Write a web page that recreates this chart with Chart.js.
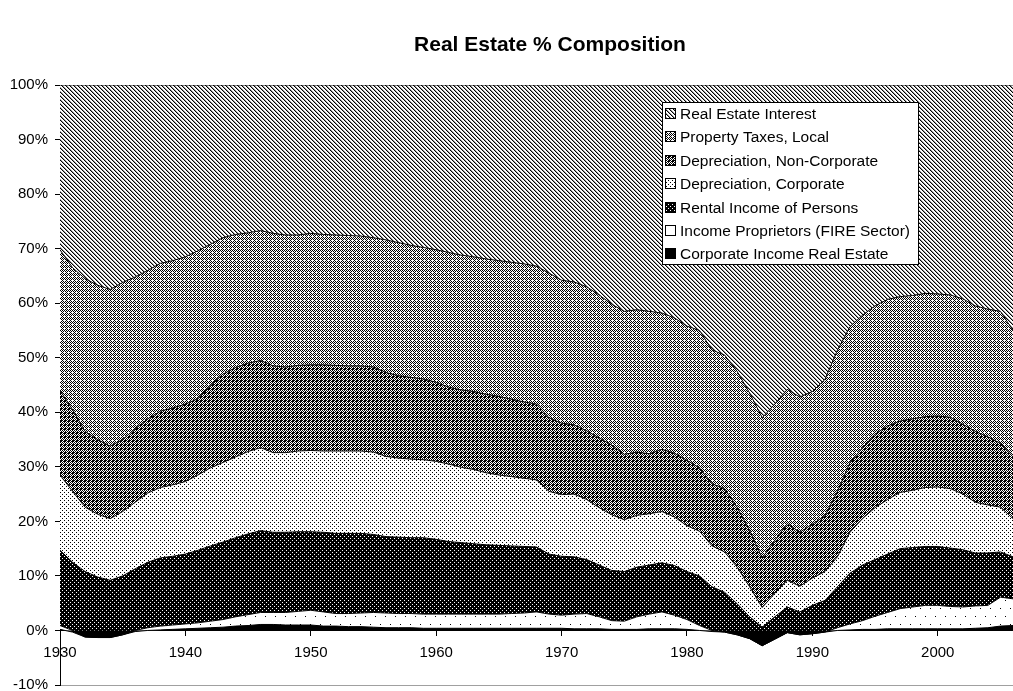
<!DOCTYPE html>
<html><head><meta charset="utf-8">
<script src="https://cdn.jsdelivr.net/npm/chart.js@4.4.1/dist/chart.umd.min.js"></script>
<style>html,body{margin:0;padding:0;background:#fff;}#wrap{width:1013px;height:691px;}</style>
</head><body>
<div id="wrap"><canvas id="c" width="1013" height="691"></canvas></div>
<script>
const years = [1930,1931,1932,1933,1934,1935,1936,1937,1938,1939,
1940,1941,1942,1943,1944,1945,1946,1947,1948,1949,
1950,1951,1952,1953,1954,1955,1956,1957,1958,1959,
1960,1961,1962,1963,1964,1965,1966,1967,1968,1969,
1970,1971,1972,1973,1974,1975,1976,1977,1978,1979,
1980,1981,1982,1983,1984,1985,1986,1987,1988,1989,
1990,1991,1992,1993,1994,1995,1996,1997,1998,1999,
2000,2001,2002,2003,2004,2005,2006];

const corporateIncome = [0.2,-0.3,-1.2,-1.3,-1.3,-0.8,-0.2,0.0,0.1,0.2,
0.3,0.4,0.5,0.6,0.8,0.9,1.1,1.1,1.0,1.0,
1.0,0.8,0.8,0.7,0.7,0.6,0.5,0.5,0.5,0.4,
0.4,0.4,0.4,0.4,0.4,0.4,0.4,0.4,0.4,0.4,
0.4,0.3,0.3,0.3,0.2,0.2,0.2,0.3,0.3,0.3,
0.2,0.0,-0.2,-0.3,-0.8,-1.5,-2.8,-1.6,-0.4,-0.8,
-0.6,-0.3,0.0,0.1,0.2,0.2,0.3,0.3,0.3,0.3,
0.3,0.3,0.3,0.4,0.5,0.8,0.9];

const incomeProprietors = [0.7,0.3,0,0,0,0,0.2,0.5,0.7,0.8,
0.9,1.0,1.2,1.4,1.7,2.0,2.2,2.2,2.3,2.5,
2.7,2.6,2.3,2.4,2.5,2.7,2.7,2.6,2.6,2.6,
2.6,2.6,2.6,2.6,2.6,2.6,2.7,2.8,3.0,2.6,
2.4,2.7,2.8,2.2,1.6,1.5,2.3,2.7,3.1,2.5,
1.8,0.9,0.2,0,0,0,0,0,0,0,
0,0,0.5,1.1,1.6,2.4,3.0,3.7,4.0,4.3,
4.3,4.1,4.0,4.1,4.1,5.3,4.9];

const rentalIncome = [13.8,12.5,12.0,11.1,10.5,10.8,11.3,12.0,12.5,12.6,
12.8,13.3,13.8,14.2,14.5,14.8,15.0,14.7,14.7,14.6,
14.4,14.6,14.7,14.7,14.6,14.3,14.0,14.0,13.9,14.0,
13.7,13.3,13.1,12.9,12.7,12.6,12.4,12.2,11.9,11.0,
10.8,10.5,9.9,9.5,9.2,9.1,9.1,9.0,9.0,9.1,
8.8,9.1,8.0,7.3,5.7,4.0,3.4,4.1,4.7,4.2,
5.2,5.8,7.5,9.3,10.2,10.4,10.7,11.0,10.9,10.8,
10.8,10.7,10.5,9.7,9.6,8.3,7.7];

const depreciationCorporate = [13.8,13.0,11.8,11.5,11.3,11.8,12.2,12.7,12.9,13.1,
13.3,13.8,14.3,14.6,14.8,15.1,15.2,14.6,14.6,14.8,
14.9,14.9,15.1,15.1,15.1,15.1,14.7,14.5,14.4,14.3,
14.3,14.2,13.8,13.6,13.2,12.9,12.7,12.5,12.3,11.5,
11.3,11.5,11.0,10.5,10.2,9.5,9.5,9.4,9.4,8.9,
8.4,8.2,7.5,7.4,6.7,5.5,3.6,4.3,4.9,4.7,
5.0,5.3,5.5,7.5,8.5,9.5,10.0,10.3,10.5,10.8,
10.9,10.9,10.2,9.3,8.8,8.2,7.0];

const depreciationNonCorporate = [15.5,15.0,13.9,13.7,13.3,13.2,13.5,13.6,14.0,14.1,
14.2,14.0,15.2,16.2,16.4,16.2,16.0,15.9,15.7,15.7,
15.7,15.8,15.7,15.6,15.6,15.6,15.4,15.1,15.0,14.8,
14.5,14.1,14.2,14.3,14.4,14.4,14.2,14.0,13.9,13.5,
13.1,12.7,12.6,12.8,12.8,12.0,11.6,11.0,11.4,11.7,
12.0,11.6,11.4,11.6,11.0,10.3,9.1,9.7,10.4,9.9,
9.9,10.2,12.0,12.8,13.0,13.5,13.5,13.1,13.1,13.0,
13.0,13.1,12.8,13.0,12.5,11.7,11.3];

const propertyTaxes = [25.8,26.0,28.0,28.3,28.7,28.8,27.8,27.2,27.1,27.0,
27.0,27.1,25.8,25.0,24.4,23.9,23.8,24.3,24.2,23.9,
24.1,23.9,23.9,23.9,23.8,23.7,24.3,24.4,24.2,24.1,
24.3,24.7,24.7,24.7,24.8,24.9,25.1,25.3,25.3,26.5,
26.2,26.2,26.4,26.2,25.8,26.2,26.1,26.1,25.0,24.8,
24.6,25.2,24.5,24.5,24.9,25.2,25.7,25.0,24.6,24.8,
24.3,25.0,25.9,24.9,24.3,23.5,23.2,22.8,22.6,22.6,
22.4,22.4,23.0,23.0,23.4,24.2,23.2];

const realEstateInterest = [30.2,33.5,35.5,36.7,37.5,36.2,35.2,34.0,32.7,32.2,
31.5,30.4,29.2,28.0,27.4,27.1,26.7,27.2,27.5,27.5,
27.2,27.4,27.5,27.6,27.7,28.0,28.4,28.9,29.4,29.8,
30.2,30.7,31.2,31.5,31.9,32.2,32.5,32.8,33.2,34.5,
35.8,36.1,37.0,38.5,40.2,41.5,41.2,41.5,41.8,42.7,
44.2,45.0,48.6,49.5,52.5,56.5,61.0,58.5,55.8,57.2,
56.2,54.0,48.6,44.3,42.2,40.5,39.3,38.8,38.6,38.2,
38.3,38.5,39.2,40.5,41.1,41.5,45.0];

const seriesNames = ["Corporate Income Real Estate","Income Proprietors (FIRE Sector)","Rental Income of Persons",
  "Depreciation, Corporate","Depreciation, Non-Corporate","Property Taxes, Local","Real Estate Interest"];

const titleText = "Real Estate % Composition";
const FONT = '"Liberation Sans", Arial, Helvetica, sans-serif';

// ---- fill patterns ----
function makePattern(w, h, bg, marks) {
  const t = document.createElement('canvas');
  t.width = w; t.height = h;
  const g = t.getContext('2d');
  g.fillStyle = bg; g.fillRect(0, 0, w, h);
  marks.forEach(m => { g.fillStyle = m[2]; g.fillRect(m[0], m[1], 1, 1); });
  return document.createElement('canvas').getContext('2d').createPattern(t, 'repeat');
}
const K = '#000', W = '#fff', G = '#9a9a9a';
const patInterest = makePattern(4,4,W,[[0,0,K],[1,0,G],[1,1,K],[2,1,G],[2,2,K],[3,2,G],[3,3,K],[0,3,G]]);
const patTaxes = makePattern(4,4,W,[[2,0,K],[1,1,K],[3,1,K],[0,2,K],[2,2,K],[1,3,K],[3,3,K]]);
const patDepNC = makePattern(4,4,W,[[0,0,K],[1,0,K],[2,0,K],[0,1,K],[1,1,K],[3,1,K],[0,2,K],[2,2,K],[1,3,K],[3,3,K]]);
const patDepC = makePattern(4,4,W,[[0,0,K],[2,2,K]]);
const patRental = makePattern(4,4,K,[[0,0,W],[2,2,W]]);
const patProp = makePattern(10,16,W,[[0,0,K],[5,8,K]]);
const fills = ['#000', patProp, patRental, patDepC, patDepNC, patTaxes, patInterest];
const values = [corporateIncome, incomeProprietors, rentalIncome, depreciationCorporate,
  depreciationNonCorporate, propertyTaxes, realEstateInterest];

const datasets = values.map((v, i) => ({
  label: seriesNames[i],
  data: v,
  backgroundColor: fills[i],
  borderColor: '#000',
  borderWidth: 1,
  pointRadius: 0,
  tension: 0,
  fill: i === 0 ? 'origin' : '-1'
}));

const titlePlugin = {
  id: 'titleDraw',
  afterDraw(chart) {
    const ctx = chart.ctx;
    ctx.save();
    ctx.fillStyle = '#000';
    ctx.font = 'bold 21px ' + FONT;
    ctx.textAlign = 'center';
    ctx.textBaseline = 'middle';
    ctx.fillText(titleText, 550, 45);
    ctx.restore();
  }
};

const legendPlugin = {
  id: 'boxLegend',
  afterDraw(chart) {
    const ctx = chart.ctx;
    ctx.save();
    ctx.fillStyle = '#fff';
    ctx.fillRect(662, 102, 256, 162);
    ctx.strokeStyle = '#000';
    ctx.lineWidth = 1;
    ctx.strokeRect(662.5, 102.5, 256, 162);
    ctx.font = '15.5px ' + FONT;
    ctx.textBaseline = 'middle';
    const n = chart.data.datasets.length;
    for (let i = 0; i < n; i++) {
      const ds = chart.data.datasets[n - 1 - i];
      const cy = Math.round(114 + i * 23.4);
      ctx.fillStyle = ds.backgroundColor;
      ctx.fillRect(666, cy - 5, 9, 9);
      ctx.strokeStyle = '#000';
      ctx.strokeRect(665.5, cy - 5.5, 10, 10);
      ctx.fillStyle = '#000';
      ctx.fillText(ds.label, 680, cy + 1);
    }
    ctx.restore();
  }
};

new Chart(document.getElementById('c'), {
  type: 'line',
  data: { labels: years, datasets },
  options: {
    responsive: false,
    animation: false,
    layout: { padding: { top: 85, bottom: 6, left: 0, right: 0 } },
    plugins: {
      legend: { display: false },
      tooltip: { enabled: false },
      title: { display: false },
      filler: { drawTime: 'beforeDatasetsDraw' }
    },
    scales: {
      x: {
        type: 'linear',
        position: { y: 0 },
        min: 1930, max: 2006,
        ticks: { stepSize: 10, includeBounds: false, color: '#000', padding: 8,
          font: { size: 15, family: FONT }, maxRotation: 0,
          callback: v => String(v) },
        grid: { drawOnChartArea: false, drawTicks: true, tickLength: 5, color: '#000', tickColor: '#000' },
        border: { color: '#000', width: 1 },
        afterFit: s => { s.paddingLeft = 0; s.paddingRight = 0; s.paddingTop = 0; s.paddingBottom = 0; }
      },
      y: {
        stacked: 'single',
        min: -10, max: 100,
        ticks: { stepSize: 10, color: '#000', padding: 7,
          font: { size: 15, family: FONT }, callback: v => v + '%' },
        grid: { drawOnChartArea: true, tickLength: 5, tickColor: '#000',
          color: c => (c.tick && c.tick.value === -10) ? '#a0a0a0' : 'rgba(0,0,0,0)' },
        border: { color: '#000', width: 1 },
        afterFit: s => { s.width = 60; s.paddingTop = 0; s.paddingBottom = 0; }
      }
    }
  },
  plugins: [titlePlugin, legendPlugin]
});
</script>
</body></html>
